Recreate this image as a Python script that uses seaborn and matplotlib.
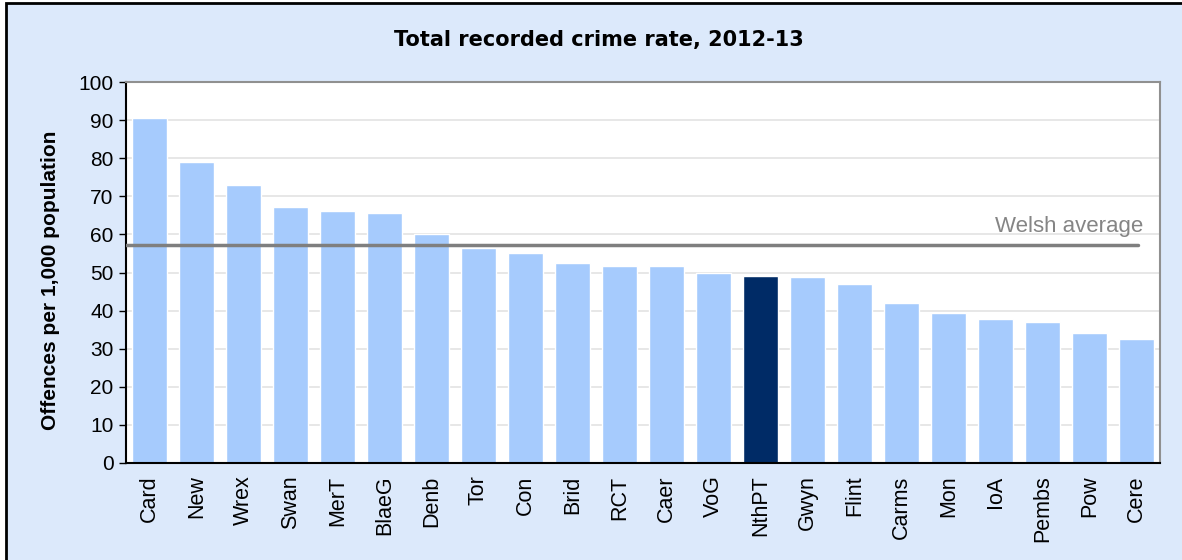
import matplotlib
matplotlib.use("Agg")
import matplotlib.pyplot as plt
import seaborn as sns
import pandas as pd
from matplotlib.patches import Rectangle

# data
areas = ["Card", "New", "Wrex", "Swan", "MerT", "BlaeG", "Denb", "Tor", "Con", "Brid", "RCT",
         "Caer", "VoG", "NthPT", "Gwyn", "Flint", "Carms", "Mon", "IoA", "Pembs", "Pow", "Cere"]
rates = [90.6, 79.1, 73.0, 67.3, 66.2, 65.7, 60.2, 56.5, 55.0, 52.6, 51.6,
         51.6, 50.0, 49.2, 48.7, 47.1, 41.9, 39.3, 37.7, 36.9, 34.0, 32.5]
welsh_average = 57.1
highlight = "NthPT"

df = pd.DataFrame({"area": areas, "rate": rates})

sns.set_theme(style="white")
plt.rcParams["font.family"] = ["Liberation Sans", "DejaVu Sans"]
plt.rcParams["text.color"] = "black"
plt.rcParams["axes.labelcolor"] = "black"
plt.rcParams["xtick.color"] = "black"
plt.rcParams["ytick.color"] = "black"

bg = "#dce9fb"
light = "#a6cbfd"
dark = "#002b66"
palette = {a: (dark if a == highlight else light) for a in areas}

fig = plt.figure(figsize=(11.82, 5.6), dpi=100, facecolor="white")
# chart area frame (only top and left edges visible)
fig.patches.append(Rectangle((6 / 1182, -0.5), 2.0, 1 - 3 / 560 + 0.5, transform=fig.transFigure,
                             facecolor=bg, edgecolor="black", linewidth=2, zorder=-1))
ax = fig.add_axes([126 / 1182, 1 - 463 / 560, (1160 - 126) / 1182, (463 - 82) / 560])
ax.set_facecolor("white")

sns.barplot(data=df, x="area", y="rate", hue="area", palette=palette, legend=False,
            width=0.75, saturation=1, ax=ax, zorder=2)

ax.set_ylim(0, 100)
ax.set_xlim(-0.5, len(areas) - 0.5)
ax.set_yticks(range(0, 101, 10))
ax.yaxis.grid(True, color="#e3e3e3", linewidth=1.2, zorder=0)
ax.set_axisbelow(True)

ax.axhline(welsh_average, xmin=0.0, xmax=0.979, color="#7f7f7f", linewidth=2.5, zorder=3)
ax.text(len(areas) - 0.85, welsh_average + 2.3, "Welsh average", ha="right", va="bottom",
        fontsize=16, color="#858585", zorder=4)

ax.tick_params(axis="y", which="both", left=True, length=5, width=1, color="black",
               labelsize=15, pad=4)
ax.tick_params(axis="x", bottom=False, labelsize=15.5, pad=3, labelrotation=90)
for lbl in ax.get_xticklabels():
    lbl.set_va("top")

for side in ["left", "bottom"]:
    ax.spines[side].set_color("black")
    ax.spines[side].set_linewidth(1.5)
for side in ["top", "right"]:
    ax.spines[side].set_color("#909090")
    ax.spines[side].set_linewidth(1.5)

ax.set_xlabel("")
ax.set_ylabel("Offences per 1,000 population", fontsize=15, fontweight="bold")
ax.yaxis.set_label_coords(-0.064, 0.48)
fig.text(599 / 1182, 1 - 40 / 560, "Total recorded crime rate, 2012-13", ha="center", va="center",
         fontsize=15, fontweight="bold", family=["DejaVu Sans"])

fig.savefig("out.png", dpi=100, facecolor="white")
